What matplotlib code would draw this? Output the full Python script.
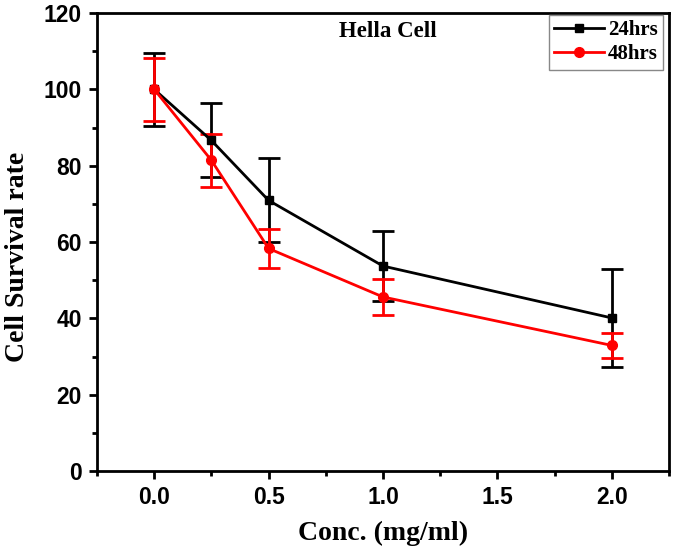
import matplotlib
matplotlib.use('Agg')
import matplotlib.pyplot as plt
from matplotlib.ticker import MultipleLocator

conc = [0.0, 0.25, 0.5, 1.0, 2.0]
surv_24 = [100.0, 86.6, 70.9, 53.7, 40.1]
err_24 = [9.6, 9.7, 11.0, 9.2, 12.9]
surv_48 = [100.0, 81.4, 58.3, 45.6, 32.9]
err_48 = [8.2, 7.0, 5.0, 4.6, 3.3]

serif = 'Liberation Serif'
sans = 'Liberation Sans'

fig = plt.figure(figsize=(6.75, 5.5), dpi=100)
ax = fig.add_axes([97 / 675, 79 / 550, 572 / 675, 458 / 550])

e24 = ax.errorbar(conc, surv_24, yerr=err_24, color='black', marker='s', markersize=6,
                  linewidth=2, elinewidth=2, capsize=8, capthick=2, label='24hrs')
e48 = ax.errorbar(conc, surv_48, yerr=err_48, color='red', marker='o', markersize=7,
                  linewidth=2, elinewidth=2, capsize=8, capthick=2, label='48hrs')

ax.set_xlim(-0.25, 2.25)
ax.set_ylim(0, 120)
ax.xaxis.set_major_locator(MultipleLocator(0.5))
ax.xaxis.set_minor_locator(MultipleLocator(0.25))
ax.yaxis.set_major_locator(MultipleLocator(20))
ax.yaxis.set_minor_locator(MultipleLocator(10))
ax.tick_params(which='major', direction='out', length=6, width=2, pad=5)
ax.tick_params(which='minor', direction='out', length=3.5, width=2)
for s in ax.spines.values():
    s.set_linewidth(2)

for lab in ax.get_xticklabels() + ax.get_yticklabels():
    lab.set_fontfamily(sans)
    lab.set_fontweight('bold')
    lab.set_fontsize(16.5)

ax.set_xlabel('Conc. (mg/ml)', fontfamily=serif, fontweight='bold', fontsize=20, labelpad=8)
ax.set_ylabel('Cell Survival rate', fontfamily=serif, fontweight='bold', fontsize=20, labelpad=10)
ax.yaxis.label.set_y(0.467)
ax.text((388 - 97) / 572, (471 - 37) / 458, 'Hella Cell', transform=ax.transAxes,
        ha='center', va='baseline', fontfamily=serif, fontweight='bold', fontsize=16.5)

leg = ax.legend([e24[0], e48[0]], ['24hrs', '48hrs'], loc='upper right',
                bbox_to_anchor=((663 - 97) / 572, (471 - 15) / 458),
                prop={'family': serif, 'weight': 'bold', 'size': 15},
                fancybox=False, framealpha=1, edgecolor='#888888', borderaxespad=0,
                handlelength=2.4, handletextpad=0.2, borderpad=0.25, labelspacing=0.2)
leg.get_frame().set_linewidth(1)

fig.savefig('out.png', dpi=100)
